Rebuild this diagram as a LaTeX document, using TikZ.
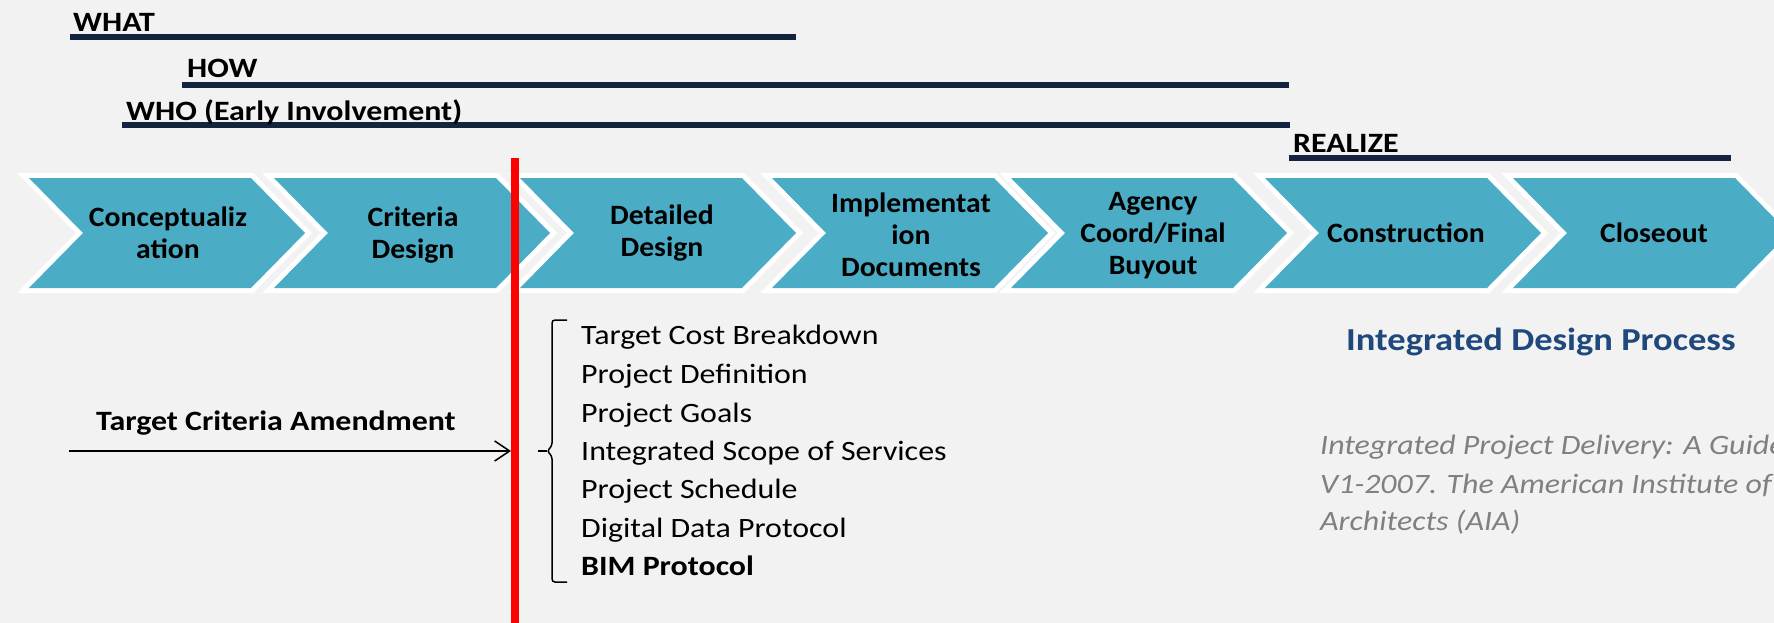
\documentclass[tikz,border=0pt]{standalone}
\usepackage{fontspec}
\setmainfont{Carlito}[FakeStretch=1.14]
\newfontfamily\chevfont{Carlito}[FakeStretch=1.06]
\usetikzlibrary{arrows.meta}
\definecolor{bg}{HTML}{F2F2F2}
\definecolor{navy}{HTML}{14243E}
\definecolor{chev}{HTML}{4BACC6}
\definecolor{titleblue}{HTML}{1F497D}
\definecolor{citegray}{HTML}{808080}
\tikzset{
  hdr/.style={anchor=base west, inner sep=0pt, font=\fontsize{28pt}{32pt}\selectfont\bfseries},
  hline/.style={navy, line width=6pt},
  chevtext/.style={align=center, inner sep=0pt, font=\chevfont\fontsize{28pt}{32pt}\selectfont\bfseries},
  chevborder/.style={draw=white, line width=10pt, line join=miter},
  chevfill/.style={fill=chev},
  item/.style={anchor=base west, inner sep=0pt, font=\fontsize{28pt}{32pt}\selectfont},
  cite/.style={anchor=base west, inner sep=0pt, text=citegray, font=\fontsize{28pt}{32pt}\selectfont\itshape},
}
\begin{document}
\begin{tikzpicture}[x=1pt,y=-1pt]
\useasboundingbox (0,0) rectangle (1774,623);
\fill[bg] (0,0) rectangle (1774,623);
\clip (0,0) rectangle (1774,623);

% header lines
\draw[hline] (70,37) -- (796,37);
\draw[hline] (182,85) -- (1289,85);
\draw[hline] (122,125.5) -- (1290,125.5);
\draw[hline] (1289,158) -- (1731,158);
\node[hdr] (what) at (73,32) {WHAT};
\node[hdr] (how) at (187,78) {HOW};
\node[hdr] (who) at (126,121) {WHO (Early Involvement)};
\node[hdr] (realize) at (1293,153) {REALIZE};

% chevrons
\foreach \L in {29,274,520,772,1011,1265,1513}{
  \draw[chevborder] (\L,178) -- (\L+222,178) -- (\L+276,233) -- (\L+222,288) -- (\L,288) -- (\L+54,233) -- cycle;
}
\foreach \L in {29,274,520,772,1011,1265,1513}{
  \fill[chevfill] (\L,178) -- (\L+222,178) -- (\L+276,233) -- (\L+222,288) -- (\L,288) -- (\L+54,233) -- cycle;
}
\node[chevtext] (c1) at (168,233) {Conceptualiz\\ation};
\node[chevtext] (c2) at (413,235) {Criteria\\Design};
\node[chevtext] (c3) at (662,233) {Detailed\\Design};
\node[chevtext] (c4) at (911,235) {Implementat\\ion\\Documents};
\node[chevtext] (c5) at (1153,236) {Agency\\Coord/Final\\Buyout};
\node[chevtext] (c6) at (1406,233) {Construction};
\node[chevtext] (c7) at (1654,233) {Closeout};

% red line
\coordinate (rtop) at (515,158);
\coordinate (rbot) at (515,623);
\draw[red, line width=8pt] (rtop) -- (rbot);

% amendment arrow
\node[anchor=base west, inner sep=0pt, font=\fontsize{28pt}{32pt}\selectfont\bfseries] (tca) at (96,430) {Target Criteria Amendment};
\coordinate (astart) at (69,451);
\coordinate (aend) at (511,451);
\draw[line width=1.5pt, -{Straight Barb[length=15pt,width=20pt]}] (astart) -- (aend);

% brace
\draw[line width=1.5pt, rounded corners=3pt] (567,320) -- (552,320) -- (552,446) -- (547,451) -- (552,456) -- (552,582) -- (567,582);
\draw[line width=1.5pt] (547,451) -- (538,451);

% list
\node[item] (l1) at (581,344) {Target Cost Breakdown};
\node[item] (l2) at (581,383) {Project Definition};
\node[item] (l3) at (581,422) {Project Goals};
\node[item] (l4) at (581,460) {Integrated Scope of Services};
\node[item] (l5) at (581,498) {Project Schedule};
\node[item] (l6) at (581,537) {Digital Data Protocol};
\node[item, font=\fontsize{28pt}{32pt}\selectfont\bfseries] (l7) at (581,575) {BIM Protocol};

% title and citation
\node[anchor=base west, inner sep=0pt, text=titleblue, font=\fontsize{32pt}{36pt}\selectfont\bfseries] (title) at (1346,350) {Integrated Design Process};
\node[cite] (ct1) at (1320,454) {Integrated Project Delivery: A Guide};
\node[cite] (ct2) at (1320,493) {V1-2007. The American Institute of};
\node[cite] (ct3) at (1320,530) {Architects (AIA)};
\end{tikzpicture}
\end{document}
